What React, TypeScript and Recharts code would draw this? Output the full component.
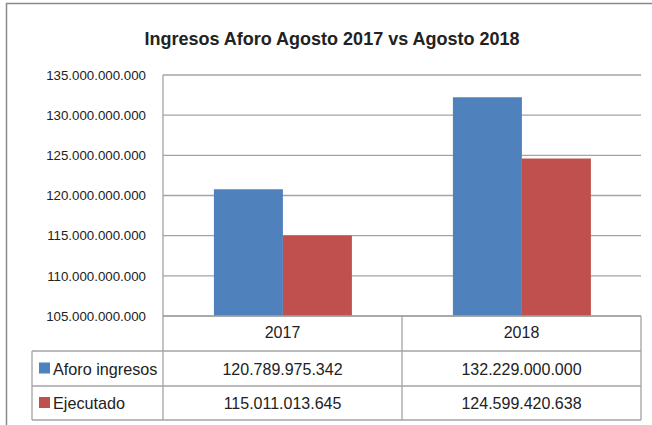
import React from 'react';
import { BarChart, Bar, XAxis, YAxis, CartesianGrid } from 'recharts';

const categories = ['2017', '2018'];
const aforoIngresos = [120789975342, 132229000000];
const ejecutado = [115011013645, 124599420638];
const seriesNames = ['Aforo ingresos', 'Ejecutado'];
const seriesColors = ['#4f81bd', '#c0504d'];
const yTicks = [
    105000000000, 110000000000, 115000000000, 120000000000,
    125000000000, 130000000000, 135000000000,
];

const W = 652;
const H = 425;
const PLOT_LEFT = 163;
const PLOT_RIGHT = 641;
const PLOT_TOP = 75;
const PLOT_BOTTOM = 316;
const TABLE_LEFT = 32;
const ROW_LINES = [351, 386, 420];
const GRID = '#a3a3a3';
const TEXT = '#222';
const FONT = "'Liberation Sans', Arial, sans-serif";

// 120789975342 -> 120.789.975.342
const fmt = (n: number) => String(n).replace(/\B(?=(\d{3})+(?!\d))/g, '.');

const data = categories.map((c, i) => ({
    year: c,
    aforo: aforoIngresos[i],
    ejecutado: ejecutado[i],
}));
const seriesValues = [aforoIngresos, ejecutado];

const App: React.FC = () => {
    const colW = (PLOT_RIGHT - PLOT_LEFT) / categories.length;
    const rowTops = [PLOT_BOTTOM, ...ROW_LINES];

    return (
        <div style={{ position: 'absolute', left: 0, top: 0, width: W, height: H, overflow: 'hidden', background: '#fff', fontFamily: FONT }}>
            <BarChart
                width={W}
                height={H}
                data={data}
                margin={{ top: PLOT_TOP, right: W - PLOT_RIGHT, bottom: H - PLOT_BOTTOM - 35, left: 0 }}
                barCategoryGap="21.3%"
                barGap={0}
            >
                <CartesianGrid vertical={false} stroke={GRID} strokeWidth={1.3} />
                <YAxis
                    width={PLOT_LEFT}
                    domain={[105000000000, 135000000000]}
                    ticks={yTicks}
                    interval={0}
                    tickFormatter={fmt}
                    tickLine={false}
                    tickSize={0}
                    tickMargin={17}
                    axisLine={{ stroke: GRID, strokeWidth: 1.3 }}
                    tick={{ fill: TEXT, fontSize: 13.3, fontFamily: FONT }}
                    allowDataOverflow
                />
                <XAxis
                    dataKey="year"
                    height={35}
                    tickLine={false}
                    tickSize={0}
                    tickMargin={11}
                    axisLine={{ stroke: GRID, strokeWidth: 1.3 }}
                    tick={{ fill: TEXT, fontSize: 16, fontFamily: FONT }}
                />
                <Bar dataKey="aforo" name={seriesNames[0]} fill={seriesColors[0]} isAnimationActive={false} />
                <Bar dataKey="ejecutado" name={seriesNames[1]} fill={seriesColors[1]} isAnimationActive={false} />
            </BarChart>

            <svg width={W} height={H} style={{ position: 'absolute', left: 0, top: 0, pointerEvents: 'none' }}>
                {/* chart frame */}
                <rect x={6.5} y={3.5} width={W + 20} height={H + 20} fill="none" stroke="#8a8a8a" strokeWidth={1.5} />
                <text x={332} y={45} textAnchor="middle" fontSize={18} fontWeight="bold" fill={TEXT} fontFamily={FONT}>
                    Ingresos Aforo Agosto 2017 vs Agosto 2018
                </text>

                {/* data table */}
                {ROW_LINES.map((y) => (
                    <line key={y} x1={TABLE_LEFT} x2={PLOT_RIGHT} y1={y} y2={y} stroke={GRID} strokeWidth={1.3} />
                ))}
                <line x1={TABLE_LEFT} x2={TABLE_LEFT} y1={ROW_LINES[0]} y2={ROW_LINES[2]} stroke={GRID} strokeWidth={1.3} />
                {categories.map((c, i) => (
                    <line key={c} x1={PLOT_LEFT + colW * (i + 1)} x2={PLOT_LEFT + colW * (i + 1)} y1={PLOT_BOTTOM} y2={ROW_LINES[2]} stroke={GRID} strokeWidth={1.3} />
                ))}
                <line x1={PLOT_LEFT} x2={PLOT_LEFT} y1={PLOT_BOTTOM} y2={ROW_LINES[2]} stroke={GRID} strokeWidth={1.3} />

                {seriesNames.map((name, s) => {
                    const top = rowTops[s + 1];
                    const bottom = rowTops[s + 2];
                    const mid = (top + bottom) / 2;
                    return (
                        <g key={name}>
                            <rect x={39} y={mid - 6} width={11} height={11} fill={seriesColors[s]} />
                            <text x={53} y={mid + 6} fontSize={16.2} fill={TEXT} fontFamily={FONT}>
                                {name}
                            </text>
                            {seriesValues[s].map((v, i) => (
                                <text key={i} x={PLOT_LEFT + colW * (i + 0.5)} y={mid + 6} textAnchor="middle" fontSize={16} fill={TEXT} fontFamily={FONT}>
                                    {fmt(v)}
                                </text>
                            ))}
                        </g>
                    );
                })}
            </svg>
        </div>
    );
};

export default App;
